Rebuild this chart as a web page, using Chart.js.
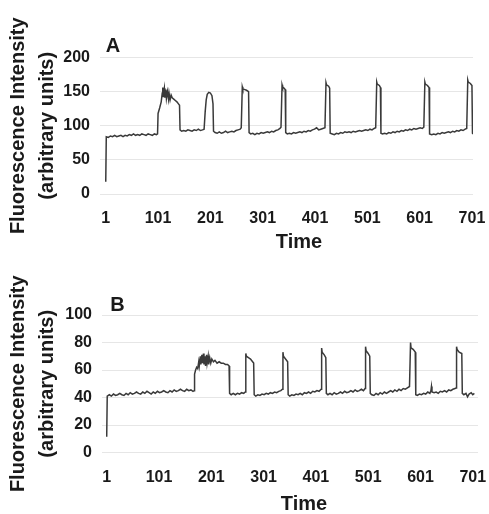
<!DOCTYPE html>
<html>
<head>
<meta charset="utf-8">
<script src="https://cdn.jsdelivr.net/npm/chart.js@4.4.0/dist/chart.umd.min.js"></script>
<style>
  html, body { margin: 0; padding: 0; background: #fff; }
  #wrap { position: relative; width: 489px; height: 514px; }
  canvas { position: absolute; left: 0; }
</style>
</head>
<body>
<div id="wrap">
  <canvas id="chartA" width="489" height="256" style="top:0"></canvas>
  <canvas id="chartB" width="489" height="258" style="top:256px"></canvas>
</div>
<script>
// tick labels
var xTicks = [1, 101, 201, 301, 401, 501, 601, 701];
var yTicksA = [0, 50, 100, 150, 200];
var yTicksB = [0, 20, 40, 60, 80, 100];

// panel A (time point, intensity)
var timeA = [
  1, 2, 6, 10, 14, 18, 22, 26, 30, 34, 38, 42, 46, 50, 54, 58, 62, 66, 70, 74, 78, 82, 86, 90, 94, 98, 100,
  101, 104, 107, 109, 110, 111, 112, 113, 114, 116, 117, 119, 121, 122, 124, 126, 128, 131, 134, 137, 140, 142,
  143, 146, 150, 154, 158, 162, 166, 170, 174, 178, 182, 186, 189,
  191, 193, 195, 198, 201, 204, 206,
  207, 210, 214, 218, 222, 226, 230, 234, 238, 242, 246, 250, 254, 258, 260,
  262, 263, 267, 270, 274,
  275, 278, 282, 286, 290, 294, 298, 302, 306, 310, 314, 318, 322, 326, 330, 334, 336,
  338, 339, 342, 344,
  345, 348, 352, 356, 360, 364, 368, 372, 376, 380, 384, 388, 392, 396, 400, 404, 408, 412, 416, 420,
  422, 423, 427, 429,
  430, 434, 438, 442, 446, 450, 454, 458, 462, 466, 470, 474, 478, 482, 486, 490, 494, 498, 502, 506, 510, 514, 517,
  519, 520, 524, 526,
  527, 530, 534, 538, 542, 546, 550, 554, 558, 562, 566, 570, 574, 578, 582, 586, 590, 594, 598, 602, 606, 609,
  611, 612, 616, 619,
  620, 624, 628, 632, 636, 640, 644, 648, 652, 656, 660, 664, 668, 672, 676, 680, 684, 688, 691,
  693, 694, 698, 701, 702, 703
];
var valueA = [
  18, 84, 83, 85, 84, 86, 84, 85, 86, 84, 86, 85, 87, 86, 88, 86, 87, 86, 88, 87, 86, 88, 87, 86, 88, 87, 88,
  118, 126, 135, 148, 156, 143, 150, 155, 141, 153, 140, 150, 139, 148, 138, 145, 141, 139, 137, 135, 132, 130,
  94, 92, 93, 92, 94, 93, 92, 94, 93, 95, 93, 94, 95,
  120, 138, 146, 149, 148, 144, 132,
  92, 90, 89, 91, 89, 90, 92, 90, 91, 92, 91, 93, 94, 95, 97,
  157, 154, 153, 152, 150,
  90, 88, 89, 87, 89, 88, 90, 89, 90, 91, 90, 92, 91, 93, 94, 96, 98,
  160, 157, 155, 153,
  90, 88, 89, 88, 90, 89, 90, 91, 90, 92, 91, 93, 92, 94, 95, 97, 94, 95, 96, 97,
  163, 160, 158, 155,
  89, 88, 87, 89, 88, 90, 89, 91, 90, 91, 90, 92, 91, 92, 93, 92, 93, 94, 93, 95, 94, 96, 97,
  164, 161, 159, 156,
  89, 88, 89, 88, 90, 89, 91, 90, 92, 91, 93, 92, 94, 93, 95, 94, 96, 95, 96, 97, 96, 98,
  164, 161, 159, 156,
  88, 87, 88, 87, 89, 88, 90, 89, 90, 91, 90, 92, 91, 93, 92, 94, 93, 95, 96,
  167, 164, 162, 159, 89, 88
];

// panel B (time point, intensity)
var timeB = [
  1, 2, 6, 10, 14, 18, 22, 26, 30, 34, 38, 42, 46, 50, 54, 58, 62, 66, 70, 74, 78, 82, 86, 90, 94, 98,
  102, 106, 110, 114, 118, 122, 126, 130, 134, 138, 142, 146, 150, 154, 158, 162, 166, 168,
  169, 171, 173, 175, 177, 178, 180, 181, 183, 184, 186, 187, 189, 190, 192, 193, 195, 196, 198, 200,
  202, 205, 208, 212, 216, 220, 224, 228, 232, 235,
  236, 239, 243, 247, 251, 255, 259, 263, 266,
  267, 268, 272, 276, 280, 282,
  283, 286, 290, 294, 298, 302, 306, 310, 314, 318, 322, 326, 330, 334, 337,
  338, 339, 343, 347,
  348, 351, 355, 359, 363, 367, 371, 375, 379, 383, 387, 391, 395, 399, 403, 407, 411,
  412, 413, 417, 420,
  421, 424, 428, 432, 436, 440, 444, 448, 452, 456, 460, 464, 468, 472, 476, 480, 484, 488, 492, 495,
  496, 497, 501, 504,
  505, 508, 512, 516, 520, 524, 528, 532, 536, 540, 544, 548, 552, 556, 560, 564, 568, 572, 576, 580,
  582, 583, 587, 591,
  592, 595, 599, 603, 607, 611, 615, 619, 621, 622, 623, 627, 631, 635, 639, 643, 647, 651, 655, 659, 663, 667, 669,
  670, 671, 675, 680,
  681, 684, 688, 691, 694, 698, 701, 704
];
var valueB = [
  11.5, 41, 42, 41, 42.5, 41.5, 42, 43, 42, 41.5, 43, 42, 43.5, 42.5, 43, 44, 43, 42.5, 44, 43, 44.5, 43.5, 42.5, 44, 43, 44.5,
  43.5, 44, 45, 44, 43.5, 45, 44, 45.5, 44.5, 45, 46, 45, 44.5, 46, 45, 45.5, 44.5, 45,
  57, 60, 62, 61, 66, 63, 70, 64, 71, 65, 72, 64, 70, 63, 71, 65, 70, 64, 69, 65,
  68, 66, 67, 65, 66, 65, 65, 64, 64, 63,
  43, 42, 43, 42, 43, 42.5, 43.5, 43, 44,
  72, 70, 69, 68, 66, 65,
  42, 41, 42, 41.5, 42.5, 42, 43, 42.5, 43.5, 43, 44, 43.5, 44.5, 45, 46,
  73, 70, 68, 66,
  42, 41, 42, 41.5, 42.5, 42, 43, 42, 43.5, 43, 44, 43, 44.5, 44, 45, 44.5, 46,
  76, 73, 71, 69,
  43, 42, 43, 42, 43.5, 42.5, 43, 44, 43, 44.5, 43.5, 44, 45, 44, 45.5, 44.5, 45, 46, 45, 46.5,
  77, 74, 72, 70,
  43, 42, 41.5, 43, 42, 43.5, 42.5, 44, 43, 44, 45, 44, 45.5, 44.5, 46, 45, 46.5, 46, 47, 48,
  80, 76, 75, 73,
  42, 41.5, 42.5, 42, 43, 42.5, 44, 43, 45, 48, 44, 43.5, 44, 43, 44.5, 44, 45, 44, 45.5, 45, 46, 46.5, 47,
  77, 75, 73, 72,
  43, 42, 43, 40.5, 42.5, 43.5, 42, 43
];

var fontFamily = '"Liberation Sans", Arial, Helvetica, sans-serif';
var textColor = '#1a1a1a';

// panel letter and the x axis title
var panelText = {
  id: 'panelText',
  afterDraw: function(chart, args, opts) {
    var ctx = chart.ctx;
    ctx.save();
    ctx.fillStyle = textColor;
    ctx.textAlign = 'center';
    ctx.textBaseline = 'middle';
    ctx.font = 'bold 20px ' + fontFamily;
    ctx.fillText(opts.letter, opts.letterX, opts.letterY);
    ctx.fillText('Time', opts.timeX, opts.timeY);
    ctx.restore();
  }
};

function drawPanel(id, times, values, yTicks, box) {
  var points = times.map(function(t, i) { return {x: t, y: values[i]}; });
  return new Chart(document.getElementById(id).getContext('2d'), {
    type: 'line',
    data: {
      datasets: [{
        data: points,
        borderColor: '#3a3a3a',
        borderWidth: 1.5,
        pointRadius: 0,
        tension: 0,
        fill: false
      }]
    },
    options: {
      responsive: false,
      animation: false,
      layout: { padding: { top: box.top, right: box.right, left: 0, bottom: 0 } },
      plugins: {
        legend: { display: false },
        tooltip: { enabled: false },
        panelText: box.text
      },
      scales: {
        x: {
          type: 'linear',
          min: box.xMin,
          max: box.xMax,
          grid: { display: false, drawTicks: false },
          border: { display: false },
          afterBuildTicks: function(axis) {
            axis.ticks = xTicks.map(function(v) { return {value: v}; });
          },
          afterFit: function(axis) {
            axis.height = box.xHeight;
            axis.paddingLeft = 0;
            axis.paddingRight = 0;
          },
          ticks: {
            autoSkip: false,
            maxRotation: 0,
            padding: 15,
            color: textColor,
            font: { family: fontFamily, size: 16, weight: 'bold' }
          }
        },
        y: {
          min: yTicks[0],
          max: yTicks[yTicks.length - 1],
          grid: { color: '#e6e6e6', lineWidth: 1, drawTicks: false },
          border: { display: false },
          afterBuildTicks: function(axis) {
            axis.ticks = yTicks.map(function(v) { return {value: v}; });
          },
          afterFit: function(axis) {
            axis.width = box.left;
            axis.paddingTop = 0;
            axis.paddingBottom = 0;
          },
          ticks: {
            padding: 10,
            color: textColor,
            font: { family: fontFamily, size: 16, weight: 'bold' }
          },
          title: {
            display: true,
            text: ['Fluorescence Intensity', '(arbitrary units)'],
            color: textColor,
            padding: { top: 4, bottom: 0 },
            font: { family: fontFamily, size: 20, weight: 'bold', lineHeight: 1.45 }
          }
        }
      }
    },
    plugins: [panelText]
  });
}

drawPanel('chartA', timeA, valueA, yTicksA, {
  top: 57.5, right: 16, left: 100, xHeight: 62, xMin: -10, xMax: 703,
  text: { letter: 'A', letterX: 113, letterY: 46, timeX: 299, timeY: 242.5 }
});

drawPanel('chartB', timeB, valueB, yTicksB, {
  top: 59, right: 11, left: 102, xHeight: 61.5, xMin: -8, xMax: 711,
  text: { letter: 'B', letterX: 117.5, letterY: 49, timeX: 304, timeY: 248.5 }
});
</script>
</body>
</html>
